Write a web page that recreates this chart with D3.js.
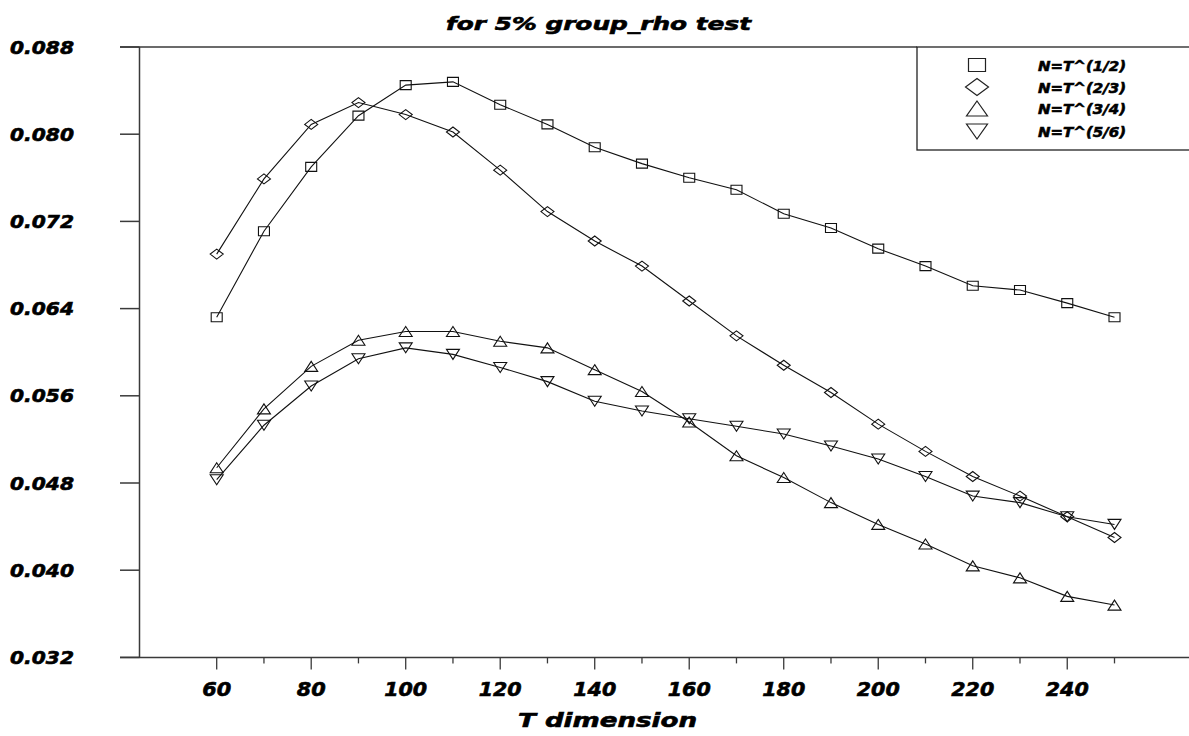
<!DOCTYPE html>
<html>
<head>
<meta charset="utf-8">
<script src="https://cdn.jsdelivr.net/npm/d3@7/dist/d3.min.js"></script>
<style>
  html, body { margin: 0; padding: 0; background: #fff; }
  svg { display: block; }
  text { font-family: "DejaVu Sans", sans-serif; font-weight: bold; font-style: italic; fill: #000; stroke: #000; stroke-width: 0.6px; }
</style>
</head>
<body>
<svg id="chart" width="1189" height="736"></svg>
<script>
const T = [60,70,80,90,100,110,120,130,140,150,160,170,180,190,200,210,220,230,240,250];
const seriesHalf = [0.0632,0.0711,0.0770,0.0817,0.0845,0.0848,0.0827,0.0809,0.0788,0.0773,0.0760,0.0749,0.0727,0.0714,0.0695,0.0679,0.0661,0.0657,0.0645,0.0632];
const seriesTwoThirds = [0.0690,0.0759,0.0809,0.0829,0.0818,0.0802,0.0767,0.0729,0.0702,0.0679,0.0647,0.0615,0.0588,0.0563,0.0534,0.0509,0.0486,0.0468,0.0449,0.0430];
const seriesThreeQuarters = [0.0494,0.0548,0.0587,0.0611,0.0619,0.0619,0.0610,0.0604,0.0584,0.0564,0.0536,0.0505,0.0485,0.0462,0.0442,0.0424,0.0404,0.0393,0.0376,0.0368];
const seriesFiveSixths = [0.0483,0.0533,0.0569,0.0594,0.0604,0.0598,0.0586,0.0573,0.0555,0.0546,0.0539,0.0532,0.0525,0.0514,0.0502,0.0486,0.0468,0.0462,0.0449,0.0442];
const seriesLabels = ["N=T^(1/2)","N=T^(2/3)","N=T^(3/4)","N=T^(5/6)"];
const yTicks = [0.032,0.040,0.048,0.056,0.064,0.072,0.080,0.088];
const xMajorTicks = [60,80,100,120,140,160,180,200,220,240];
const xMinorTicks = [70,90,110,130,150,170,190,210,230,250];
const titleText = "for 5% group_rho test";
const xTitleText = "T dimension";

const svg = d3.select("#chart");
const x = d3.scaleLinear().domain([60, 250]).range([216.7, 1114.5]);
const y = d3.scaleLinear().domain([0.032, 0.088]).range([657.4, 47]);

const axisColor = "#3a3a3a";

// Frame: top line, left axis, bottom axis
svg.append("line").attr("x1", 120).attr("x2", 917).attr("y1", y(0.088)).attr("y2", y(0.088))
  .attr("stroke", axisColor).attr("stroke-width", 1.5);
svg.append("line").attr("x1", 139.5).attr("x2", 139.5).attr("y1", y(0.088)).attr("y2", y(0.032))
  .attr("stroke", axisColor).attr("stroke-width", 1.5);
svg.append("line").attr("x1", 120).attr("x2", 1189).attr("y1", y(0.032)).attr("y2", y(0.032))
  .attr("stroke", axisColor).attr("stroke-width", 1.5);

// Y ticks and labels
yTicks.forEach(v => {
  svg.append("line").attr("x1", 120).attr("x2", 139.5).attr("y1", y(v)).attr("y2", y(v))
    .attr("stroke", axisColor).attr("stroke-width", 1.5);
  svg.append("text").attr("x", 10).attr("y", y(v) + 6.5)
    .attr("font-size", 17.5).attr("textLength", 64).attr("lengthAdjust", "spacingAndGlyphs")
    .text(v.toFixed(3));
});

// X ticks and labels
xMajorTicks.forEach(t => {
  svg.append("line").attr("x1", x(t)).attr("x2", x(t)).attr("y1", y(0.032)).attr("y2", y(0.032) + 12)
    .attr("stroke", axisColor).attr("stroke-width", 1.3);
  const s = String(t);
  const len = s.length === 2 ? 29 : 43;
  svg.append("text").attr("x", x(t) - len / 2).attr("y", 696)
    .attr("font-size", 19).attr("textLength", len).attr("lengthAdjust", "spacingAndGlyphs")
    .text(s);
});
xMinorTicks.forEach(t => {
  svg.append("line").attr("x1", x(t)).attr("x2", x(t)).attr("y1", y(0.032)).attr("y2", y(0.032) + 6)
    .attr("stroke", axisColor).attr("stroke-width", 1.3);
});

// Titles
svg.append("text").attr("x", 446).attr("y", 30).attr("font-size", 18)
  .attr("textLength", 305).attr("lengthAdjust", "spacingAndGlyphs").text(titleText);
svg.append("text").attr("x", 518).attr("y", 727).attr("font-size", 19)
  .attr("textLength", 179).attr("lengthAdjust", "spacingAndGlyphs").text(xTitleText);

// Marker shapes (w, h sizes)
function markerPath(type, w, h) {
  const a = w / 2, b = h / 2;
  if (type === 0) return `M${-a},${-b}H${a}V${b}H${-a}Z`;
  if (type === 1) return `M0,${-b}L${a},0L0,${b}L${-a},0Z`;
  if (type === 2) return `M0,${-b}L${a},${b}L${-a},${b}Z`;
  return `M${-a},${-b}L${a},${-b}L0,${b}Z`;
}

const allSeries = [seriesHalf, seriesTwoThirds, seriesThreeQuarters, seriesFiveSixths];
const line = d3.line().x((d, i) => x(T[i])).y(d => y(d));

allSeries.forEach((vals, si) => {
  svg.append("path").datum(vals).attr("d", line)
    .attr("fill", "none").attr("stroke", "#111").attr("stroke-width", 1.1);
  const sizes = [[11, 9], [13, 10], [13, 10], [13, 10]][si];
  svg.selectAll(null).data(vals).enter().append("path")
    .attr("transform", (d, i) => `translate(${x(T[i])},${y(d)})`)
    .attr("d", markerPath(si, sizes[0], sizes[1]))
    .attr("fill", "none").attr("stroke", "#111").attr("stroke-width", 1.1);
});

// Legend
svg.append("rect").attr("x", 917).attr("y", 47).attr("width", 300).attr("height", 103)
  .attr("fill", "#fff").attr("stroke", "#222").attr("stroke-width", 1.3);
const legendY = [65, 87, 108.5, 131.5];
const legendSizes = [[17, 13], [23, 17], [21, 15], [21, 15]];
seriesLabels.forEach((lab, i) => {
  svg.append("path").attr("transform", `translate(977,${legendY[i]})`)
    .attr("d", markerPath(i, legendSizes[i][0], legendSizes[i][1]))
    .attr("fill", "none").attr("stroke", "#222").attr("stroke-width", 1.2);
  svg.append("text").attr("x", 1038).attr("y", legendY[i] + 5.5).attr("font-size", 14.5)
    .attr("textLength", 88).attr("lengthAdjust", "spacingAndGlyphs").text(lab);
});
</script>
</body>
</html>
